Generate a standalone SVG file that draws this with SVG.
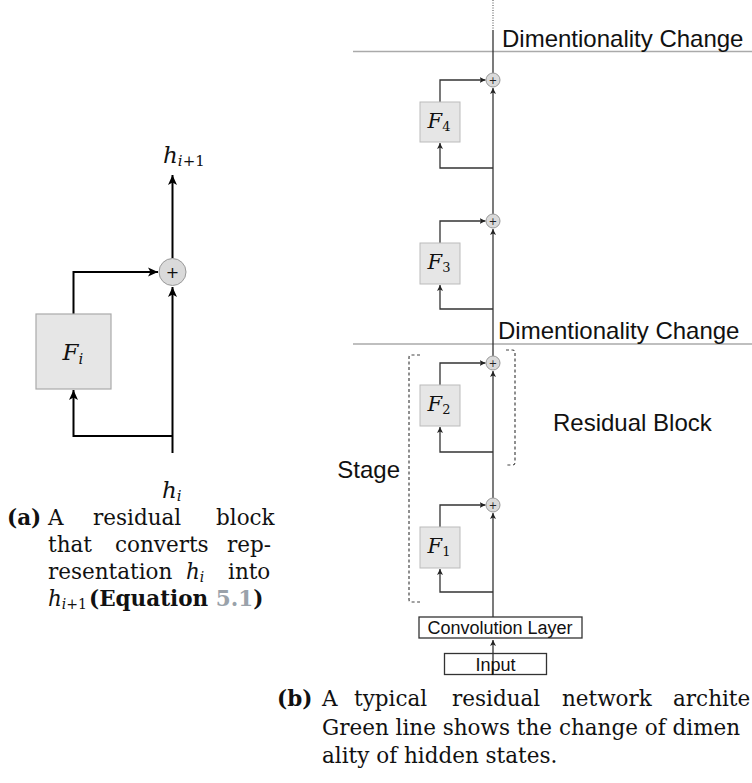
<svg xmlns="http://www.w3.org/2000/svg" width="752" height="783" viewBox="0 0 752 783">
<style>
  .cap { font-family: "DejaVu Serif", "Liberation Serif", serif; font-size: 21.5px; fill: #111; }
  .b { font-weight: bold; }
  .math { font-family: "DejaVu Serif", "Liberation Serif", serif; font-style: italic; fill: #111; }
  .up { font-style: normal; }
  .sans { font-family: "Liberation Sans", Arial, sans-serif; fill: #111; }
  .wireL { fill: none; stroke: #000; stroke-width: 2; }
  .wireR { fill: none; stroke: #333; stroke-width: 1.3; }
  .boxL { fill: #e6e6e6; stroke: #aaa; stroke-width: 1.2; }
  .boxR { fill: #e6e6e6; stroke: #bbb; stroke-width: 1; }
  .sum { fill: #dadada; stroke: #999; stroke-width: 1; }
  .grey { stroke: #aaa; stroke-width: 1.5; }
  .dash { fill: none; stroke: #444; stroke-width: 1.2; stroke-dasharray: 3 2.5; }
  .layer { fill: #fff; stroke: #333; stroke-width: 1.3; }
  .link { fill: #9aa2aa; }
</style>
<defs>
  <marker id="arrL" markerUnits="userSpaceOnUse" markerWidth="12" markerHeight="10" refX="10" refY="5" orient="auto">
    <path d="M0,0.5 L10,5 L0,9.5 L2.5,5 z" fill="#000"/>
  </marker>
  <marker id="arrR" markerUnits="userSpaceOnUse" markerWidth="7" markerHeight="6" refX="6" refY="3" orient="auto">
    <path d="M0,0 L6,3 L0,6 L1.5,3 z" fill="#222"/>
  </marker>
</defs>

<!-- ===== Left: (a) single residual block ===== -->
<g id="connectors-a">
  <path class="wireL" d="M172.5,453 L172.5,287" marker-end="url(#arrL)"/>
  <path class="wireL" d="M172.5,258 L172.5,175" marker-end="url(#arrL)"/>
  <path class="wireL" d="M172.5,436 L73.5,436 L73.5,390" marker-end="url(#arrL)"/>
  <path class="wireL" d="M73.5,314 L73.5,272 L158,272" marker-end="url(#arrL)"/>
</g>
<g id="node-Fi">
  <rect class="boxL" x="36" y="314" width="75" height="75"/>
  <text class="math" x="73" y="360" font-size="23" text-anchor="middle">F<tspan font-size="15" dy="4">i</tspan></text>
</g>
<g id="node-sum-a">
  <circle class="sum" cx="172.5" cy="272" r="13.5"/>
  <text x="172.5" y="277.5" font-family="DejaVu Sans, sans-serif" font-size="16" text-anchor="middle" fill="#111">+</text>
</g>
<g id="label-hi1">
  <text class="math" x="163" y="163" font-size="23">h<tspan font-size="15" dy="3">i</tspan><tspan class="up" font-size="15">+1</tspan></text>
</g>
<g id="label-hi">
  <text class="math" x="162" y="498" font-size="23">h<tspan font-size="15" dy="3">i</tspan></text>
</g>

<!-- caption (a) -->
<g id="caption-a" class="cap">
  <text y="525"><tspan class="b" x="7">(a)</tspan><tspan x="48">A</tspan><tspan x="93">residual</tspan><tspan x="216">block</tspan></text>
  <text y="552"><tspan x="48">that</tspan><tspan x="115">converts</tspan><tspan x="227">rep-</tspan></text>
  <text y="579"><tspan x="48">resentation</tspan><tspan class="math" x="186">h<tspan font-size="14" dy="3">i</tspan></tspan><tspan x="228" dy="-3">into</tspan></text>
  <text y="606"><tspan class="math" x="48">h<tspan font-size="14" dy="3">i</tspan><tspan class="up" font-size="14">+1</tspan></tspan><tspan class="b" x="89" dy="-3">(Equation </tspan><tspan class="b link">5.1</tspan><tspan class="b">)</tspan></text>
</g>

<!-- ===== Right: (b) residual network ===== -->
<g id="dim-lines">
  <line class="grey" x1="353" y1="51.5" x2="752" y2="51.5"/>
  <line class="grey" x1="353" y1="344" x2="752" y2="344"/>
  <text class="sans" x="502" y="47" font-size="24">Dimentionality Change</text>
  <text class="sans" x="498" y="339" font-size="24">Dimentionality Change</text>
</g>

<g id="connectors-b">
  <line x1="493" y1="0" x2="493" y2="30" stroke="#666" stroke-width="1.2" stroke-dasharray="1 1.5"/>
  <path class="wireR" d="M493,30 L493,73"/>
  <!-- block 4 -->
  <path class="wireR" d="M493,214 L493,88" marker-end="url(#arrR)"/>
  <path class="wireR" d="M493,168 L440,168 L440,143" marker-end="url(#arrR)"/>
  <path class="wireR" d="M440,102 L440,80 L485.5,80" marker-end="url(#arrR)"/>
  <!-- block 3 -->
  <path class="wireR" d="M493,356 L493,229" marker-end="url(#arrR)"/>
  <path class="wireR" d="M493,309 L440,309 L440,285" marker-end="url(#arrR)"/>
  <path class="wireR" d="M440,243 L440,221 L485.5,221" marker-end="url(#arrR)"/>
  <!-- block 2 -->
  <path class="wireR" d="M493,498 L493,371" marker-end="url(#arrR)"/>
  <path class="wireR" d="M493,452 L440,452 L440,427" marker-end="url(#arrR)"/>
  <path class="wireR" d="M440,385 L440,363 L485.5,363" marker-end="url(#arrR)"/>
  <!-- block 1 -->
  <path class="wireR" d="M493,617 L493,513" marker-end="url(#arrR)"/>
  <path class="wireR" d="M493,592 L440,592 L440,569" marker-end="url(#arrR)"/>
  <path class="wireR" d="M440,527 L440,505 L485.5,505" marker-end="url(#arrR)"/>
  <!-- input -> conv -->
  <path class="wireR" d="M493,674 L493,640" marker-end="url(#arrR)"/>
</g>

<g id="node-F4">
  <rect class="boxR" x="420" y="102" width="40" height="40"/>
  <text class="math" x="439" y="128" font-size="21" text-anchor="middle">F<tspan class="up" font-size="13" dy="3">4</tspan></text>
</g>
<g id="node-sum4"><circle class="sum" cx="493" cy="80" r="7"/><text x="493" y="83.5" font-family="DejaVu Sans, sans-serif" font-size="10" text-anchor="middle" fill="#222">+</text></g>

<g id="node-F3">
  <rect class="boxR" x="420" y="243" width="40" height="41"/>
  <text class="math" x="439" y="269" font-size="21" text-anchor="middle">F<tspan class="up" font-size="13" dy="3">3</tspan></text>
</g>
<g id="node-sum3"><circle class="sum" cx="493" cy="221" r="7"/><text x="493" y="224.5" font-family="DejaVu Sans, sans-serif" font-size="10" text-anchor="middle" fill="#222">+</text></g>

<g id="node-F2">
  <rect class="boxR" x="420" y="385" width="40" height="41"/>
  <text class="math" x="439" y="411" font-size="21" text-anchor="middle">F<tspan class="up" font-size="13" dy="3">2</tspan></text>
</g>
<g id="node-sum2"><circle class="sum" cx="493" cy="363" r="7"/><text x="493" y="366.5" font-family="DejaVu Sans, sans-serif" font-size="10" text-anchor="middle" fill="#222">+</text></g>

<g id="node-F1">
  <rect class="boxR" x="420" y="527" width="40" height="41"/>
  <text class="math" x="439" y="553" font-size="21" text-anchor="middle">F<tspan class="up" font-size="13" dy="3">1</tspan></text>
</g>
<g id="node-sum1"><circle class="sum" cx="493" cy="505" r="7"/><text x="493" y="508.5" font-family="DejaVu Sans, sans-serif" font-size="10" text-anchor="middle" fill="#222">+</text></g>

<g id="node-conv">
  <rect class="layer" x="419" y="617" width="163" height="21"/>
  <text class="sans" x="500" y="634" font-size="18" text-anchor="middle">Convolution Layer</text>
</g>
<g id="node-input">
  <rect x="444.5" y="653.5" width="102" height="21" fill="none" stroke="#333" stroke-width="1.3"/>
  <text class="sans" x="495.5" y="670.5" font-size="18" text-anchor="middle">Input</text>
</g>

<g id="bracket-block">
  <path class="dash" d="M506,350 L512.5,350 Q515,350 515,352.5 L515,462.5 Q515,465 512.5,465 L506,465"/>
  <text class="sans" x="553" y="431" font-size="24">Residual Block</text>
</g>
<g id="bracket-stage">
  <path class="dash" d="M420,355 L411.5,355 Q409,355 409,357.5 L409,599.5 Q409,602 411.5,602 L420,602"/>
  <text class="sans" x="400" y="478" font-size="24" text-anchor="end">Stage</text>
</g>

<!-- caption (b) -->
<g id="caption-b" class="cap">
  <text y="706"><tspan class="b" x="277">(b)</tspan><tspan x="322">A</tspan><tspan x="354">typical</tspan><tspan x="452">residual</tspan><tspan x="562">network</tspan><tspan x="673">archite</tspan></text>
  <text y="735" x="322">Green line shows the change of dimen</text>
  <text y="763" x="322">ality of hidden states.</text>
</g>
</svg>
